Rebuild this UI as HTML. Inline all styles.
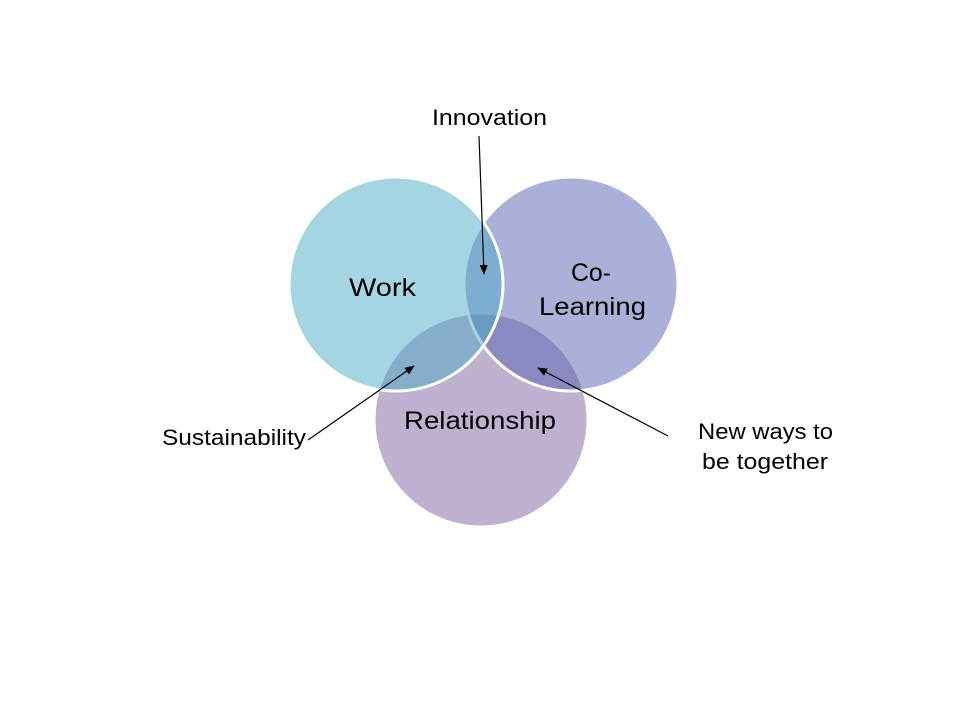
<!DOCTYPE html>
<html><head><style>
html,body{margin:0;padding:0;background:#fff;}
svg{display:block;}
text{font-family:"Liberation Sans",sans-serif;fill:#000;}
</style></head><body>
<svg width="960" height="720" viewBox="0 0 960 720">
<defs><marker id="a" markerWidth="10" markerHeight="8" refX="9" refY="4" orient="auto" markerUnits="userSpaceOnUse"><path d="M0,0 L10,4 L0,8 z" fill="#000"/></marker></defs>
<circle cx="481" cy="420" r="107" fill="rgb(128,100,162)" fill-opacity="0.5" stroke="#fff" stroke-width="3"/>
<circle cx="571" cy="284" r="107" fill="rgb(85,97,177)" fill-opacity="0.5" stroke="#fff" stroke-width="3"/>
<circle cx="396" cy="284" r="107" fill="rgb(75,172,198)" fill-opacity="0.5" stroke="#fff" stroke-width="3"/>
<text x="349" y="296" font-size="25" textLength="67" lengthAdjust="spacingAndGlyphs">Work</text>
<text x="571" y="281" font-size="25" textLength="40" lengthAdjust="spacingAndGlyphs">Co-</text>
<text x="539" y="315" font-size="25" textLength="107" lengthAdjust="spacingAndGlyphs">Learning</text>
<text x="404" y="429" font-size="25" textLength="152" lengthAdjust="spacingAndGlyphs">Relationship</text>
<text x="432" y="125" font-size="22" textLength="115" lengthAdjust="spacingAndGlyphs">Innovation</text>
<text x="162" y="445" font-size="22" textLength="144" lengthAdjust="spacingAndGlyphs">Sustainability</text>
<text x="698" y="439" font-size="22" textLength="135" lengthAdjust="spacingAndGlyphs">New ways to</text>
<text x="702" y="469" font-size="22" textLength="126" lengthAdjust="spacingAndGlyphs">be together</text>
<line x1="479" y1="136" x2="484" y2="274" stroke="#000" stroke-width="1.2" marker-end="url(#a)"/>
<line x1="308" y1="440" x2="414" y2="366" stroke="#000" stroke-width="1.2" marker-end="url(#a)"/>
<line x1="668" y1="436" x2="538" y2="368" stroke="#000" stroke-width="1.2" marker-end="url(#a)"/>
</svg>
</body></html>
